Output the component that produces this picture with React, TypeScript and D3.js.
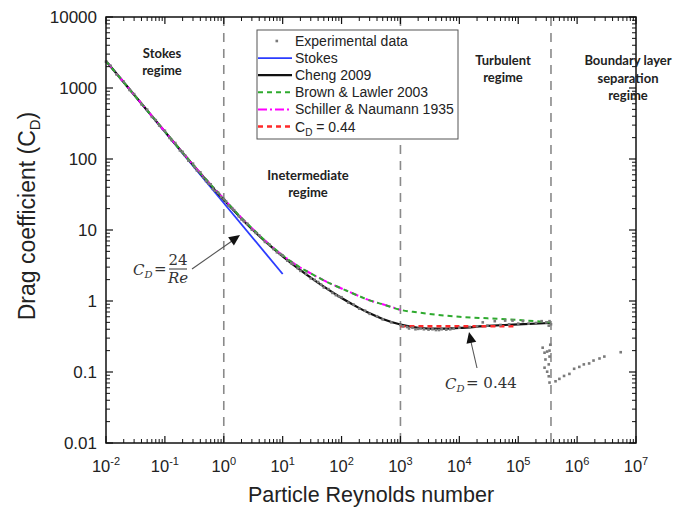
import React from 'react';
import * as d3 from 'd3';

// ---------- data ----------
const xTickExps = [-2, -1, 0, 1, 2, 3, 4, 5, 6, 7];
const yTickValues = [10000, 1000, 100, 10, 1, 0.1, 0.01];
const yTickLabels = ['10000', '1000', '100', '10', '1', '0.1', '0.01'];

const stokesRe = [0.01, 10];
const stokesCd = [2400, 2.4];

const chengRe = [0.01, 0.03, 0.1, 0.3, 1, 2, 3, 5, 10, 20, 30, 50, 100, 200, 300, 500, 1000, 2000, 3000, 5000, 1e4, 3e4, 1e5, 3.5e5];
const chengCd = [2403, 803, 242.8, 82.7, 26.6, 14.47, 10.35, 6.96, 4.26, 2.72, 2.13, 1.59, 1.1, 0.794, 0.67, 0.559, 0.466, 0.42, 0.409, 0.407, 0.417, 0.445, 0.47, 0.49];

const brownRe = [0.01, 0.1, 0.3, 1, 2, 3, 5, 10, 20, 30, 50, 100, 200, 300, 500, 1000, 2000, 3000, 6000, 1e4, 3e4, 1e5, 3.5e5];
const brownCd = [2400, 243.5, 83, 27.5, 14.8, 10.6, 7.1, 4.4, 2.95, 2.45, 1.95, 1.5, 1.17, 1.02, 0.9, 0.75, 0.69, 0.66, 0.62, 0.6, 0.57, 0.54, 0.5];

const schillerRe = [0.01, 0.1, 0.3, 1, 2, 3, 5, 10, 20, 30, 50, 100, 200, 300, 500, 1000];
const schillerCd = [2404, 244, 83, 27.6, 14.8, 10.6, 7.1, 4.4, 2.95, 2.45, 1.95, 1.5, 1.17, 1.02, 0.9, 0.75];

const cd044Re = [1000, 9e4];
const cd044Cd = [0.44, 0.44];

const expRe = [
  0.01, 0.012, 0.015, 0.02, 0.025, 0.03, 0.04, 0.05, 0.06, 0.07, 0.08, 0.1, 0.12, 0.15, 0.18, 0.2, 0.25, 0.3, 0.35, 0.4,
  0.5, 0.6, 0.7, 0.8, 1.0, 1.2, 1.5, 2, 2.5, 3, 4, 5, 6, 8, 10, 12, 15, 20, 25, 30, 40, 50, 60, 80, 100, 130, 160, 200,
  250, 300, 400, 500, 700, 1000, 1300, 1600, 2000, 2500, 3000, 4000, 5000, 6000, 8000, 1e4, 1.5e4, 2e4, 3e4, 5e4, 7e4,
  1e5, 1.5e5, 2e5, 3e5,
  0.13, 0.22, 0.32, 0.45, 0.55, 0.65, 0.9, 1.1, 1.4, 1.8, 2.2, 3.5, 7, 9, 14, 18, 35, 45, 70, 90, 1100, 1400, 1800, 2200,
  3500, 4500, 7000, 2.5e4, 4e4, 6e4, 8e4, 1.2e5, 2.5e5,
  3.4e5, 3.6e5, 3.3e5, 3.5e5, 2.6e5, 2.8e5, 3.1e5, 3.4e5, 2.9e5, 3.3e5, 2.8e5, 3.1e5, 3.3e5, 3.4e5, 3.4e5,
  4.3e5, 5.0e5, 6.0e5, 7.4e5, 8.9e5, 1.09e6, 1.3e6, 1.6e6, 1.9e6, 2.4e6, 2.9e6, 5.5e6,
];
const expCd = [
  2350, 2050, 1560, 1230, 940, 820, 590, 495, 392, 352, 296, 250, 198, 168, 132, 126, 95, 86, 69, 65,
  49, 44, 35.8, 33.5, 27.3, 22.0, 19.0, 14.1, 12.3, 10.1, 8.4, 6.8, 6.2, 4.85, 4.35, 3.7, 3.32, 2.66, 2.42, 2.08, 1.85, 1.55, 1.47, 1.21, 1.13, 0.95, 0.89, 0.78,
  0.73, 0.66, 0.61, 0.55, 0.5, 0.46, 0.43, 0.42, 0.405, 0.4, 0.395, 0.39, 0.4, 0.395, 0.41, 0.42, 0.43, 0.44, 0.45, 0.46, 0.47,
  0.48, 0.48, 0.49, 0.5,
  185, 112, 77, 55, 45, 38, 29, 25, 20, 15.6, 13.3, 9.1, 5.4, 4.6, 3.4, 2.9, 1.98, 1.7, 1.3, 1.16, 0.44, 0.41, 0.4, 0.41,
  0.4, 0.39, 0.4, 0.5, 0.52, 0.53, 0.53, 0.52, 0.52,
  0.52, 0.47, 0.45, 0.242, 0.22, 0.187, 0.194, 0.165, 0.15, 0.128, 0.115, 0.101, 0.087, 0.071, 0.2,
  0.074, 0.08, 0.088, 0.094, 0.111, 0.118, 0.128, 0.132, 0.145, 0.155, 0.165, 0.19,
];

const regimeLines = [1, 1000, 3.6e5];

// ---------- layout ----------
const W = 688;
const H = 509;
const X0 = 106;
const X1 = 636;
const Y0 = 17;
const Y1 = 443;

const axisFont = '"Liberation Sans", Arial, sans-serif';
const labelFont = 'Lato, "Open Sans", sans-serif';
const mathFont = '"DejaVu Serif", "Liberation Serif", serif';

export default function App() {
  const x = d3.scaleLog().domain([1e-2, 1e7]).range([X0, X1]);
  const y = d3.scaleLog().domain([1e-2, 1e4]).range([Y1, Y0]);

  const mk = (re: number[], cd: number[]) => {
    const pts = re.map((r, i) => [r, cd[i]] as [number, number]);
    return d3
      .line<[number, number]>()
      .x((d) => x(d[0]))
      .y((d) => y(d[1]))
      .curve(d3.curveMonotoneX)(pts) as string;
  };

  const xMinor: number[] = [];
  for (let e = -2; e < 7; e++) for (let k = 2; k <= 9; k++) xMinor.push(k * Math.pow(10, e));
  const yMinor: number[] = [];
  for (let e = -2; e < 4; e++) for (let k = 2; k <= 9; k++) yMinor.push(k * Math.pow(10, e));

  const MAJ = 7;
  const MIN = 4;

  const legendRows = [
    { label: 'Experimental data', kind: 'dot' },
    { label: 'Stokes', kind: 'line', color: '#2b3cff', dash: '', w: 1.8 },
    { label: 'Cheng 2009', kind: 'line', color: '#111', dash: '', w: 2.2 },
    { label: 'Brown & Lawler 2003', kind: 'line', color: '#2eaa2e', dash: '5,4', w: 2 },
    { label: 'Schiller & Naumann 1935', kind: 'line', color: '#ff00ff', dash: '9,3,2,3', w: 2 },
    { label: 'CD', kind: 'line', color: '#ff2a2a', dash: '5,4', w: 2.5 },
  ];

  const arrowHead = (x1: number, y1: number, x2: number, y2: number) => {
    const a = Math.atan2(y2 - y1, x2 - x1);
    const L = 11;
    const Wd = 5;
    const bx = x2 - L * Math.cos(a);
    const by = y2 - L * Math.sin(a);
    const px = -Math.sin(a) * Wd;
    const py = Math.cos(a) * Wd;
    return `M${x2},${y2}L${bx + px},${by + py}L${bx - px},${by - py}Z`;
  };

  return (
    <svg width={W} height={H} style={{ position: 'absolute', left: 0, top: 0, background: '#fff' }}>
      <rect x={0} y={0} width={W} height={H} fill="#fff" />

      {/* regime dashed lines */}
      {regimeLines.map((r) => (
        <line key={r} x1={x(r)} x2={x(r)} y1={Y0} y2={Y1} stroke="#8a8a8a" strokeWidth={1.6} strokeDasharray="9,7" />
      ))}

      {/* curves */}
      <path d={mk(stokesRe, stokesCd)} fill="none" stroke="#2b3cff" strokeWidth={1.8} />
      <path d={mk(chengRe, chengCd)} fill="none" stroke="#111" strokeWidth={2.2} />
      <path d={mk(schillerRe, schillerCd)} fill="none" stroke="#ff00ff" strokeWidth={2} strokeDasharray="9,3,2,3" />
      <path d={mk(brownRe, brownCd)} fill="none" stroke="#2eaa2e" strokeWidth={2} strokeDasharray="5,4" />
      <path d={mk(cd044Re, cd044Cd)} fill="none" stroke="#ff2a2a" strokeWidth={2.6} strokeDasharray="5,4" />

      {/* experimental data */}
      {expRe.map((r, i) => (
        <rect key={i} x={x(r) - 1.3} y={y(expCd[i]) - 1.3} width={2.6} height={2.6} fill="#7a7a7a" />
      ))}

      {/* frame */}
      <rect x={X0} y={Y0} width={X1 - X0} height={Y1 - Y0} fill="none" stroke="#111" strokeWidth={1.5} />

      {/* x ticks */}
      {xTickExps.map((e) => {
        const px = x(Math.pow(10, e));
        return (
          <g key={'xm' + e}>
            <line x1={px} x2={px} y1={Y1} y2={Y1 - MAJ} stroke="#111" strokeWidth={1.2} />
            <line x1={px} x2={px} y1={Y0} y2={Y0 + MAJ} stroke="#111" strokeWidth={1.2} />
            <text x={px} y={472} textAnchor="middle" fontFamily={axisFont} fontSize={16.5} fill="#222">
              10
              <tspan dy={-7} fontSize={11}>{String(e)}</tspan>
            </text>
          </g>
        );
      })}
      {xMinor.map((v) => (
        <g key={'xn' + v}>
          <line x1={x(v)} x2={x(v)} y1={Y1} y2={Y1 - MIN} stroke="#111" strokeWidth={1} />
          <line x1={x(v)} x2={x(v)} y1={Y0} y2={Y0 + MIN} stroke="#111" strokeWidth={1} />
        </g>
      ))}

      {/* y ticks */}
      {yTickValues.map((v, i) => (
        <g key={'ym' + v}>
          <line x1={X0} x2={X0 + MAJ} y1={y(v)} y2={y(v)} stroke="#111" strokeWidth={1.2} />
          <line x1={X1} x2={X1 - MAJ} y1={y(v)} y2={y(v)} stroke="#111" strokeWidth={1.2} />
          <text x={97} y={y(v)} dy="0.36em" textAnchor="end" fontFamily={axisFont} fontSize={17} fill="#222">
            {yTickLabels[i]}
          </text>
        </g>
      ))}
      {yMinor.map((v) => (
        <g key={'yn' + v}>
          <line x1={X0} x2={X0 + MIN} y1={y(v)} y2={y(v)} stroke="#111" strokeWidth={1} />
          <line x1={X1} x2={X1 - MIN} y1={y(v)} y2={y(v)} stroke="#111" strokeWidth={1} />
        </g>
      ))}

      {/* axis titles */}
      <text x={371} y={502} textAnchor="middle" fontFamily={axisFont} fontSize={21.5} fill="#222">
        Particle Reynolds number
      </text>
      <text transform="translate(35,216) rotate(-90)" textAnchor="middle" fontFamily={axisFont} fontSize={23} fill="#222">
        Drag coefficient (C<tspan dy={5} fontSize={15}>D</tspan><tspan dy={-5}>)</tspan>
      </text>

      {/* regime labels */}
      <g fontFamily={labelFont} fontWeight={700} fontSize={13} fill="#222" textAnchor="middle">
        <text x={162} y={58}>Stokes</text>
        <text x={162} y={75}>regime</text>
        <text x={308} y={180}>Inetermediate</text>
        <text x={308} y={197}>regime</text>
        <text x={503} y={65}>Turbulent</text>
        <text x={503} y={82}>regime</text>
        <text x={628} y={65}>Boundary layer</text>
        <text x={628} y={83}>separation</text>
        <text x={628} y={100}>regime</text>
      </g>

      {/* legend */}
      <rect x={257} y={30} width={201} height={109} fill="#fff" stroke="#555" strokeWidth={1} />
      {legendRows.map((row, i) => {
        const cy = 41 + i * 17.1;
        return (
          <g key={row.label}>
            {row.kind === 'dot' ? (
              <rect x={275.5} y={cy - 1.3} width={2.6} height={2.6} fill="#7a7a7a" />
            ) : (
              <line x1={258} x2={292} y1={cy} y2={cy} stroke={row.color} strokeWidth={row.w} strokeDasharray={row.dash} />
            )}
            <text x={295} y={cy} dy="0.36em" fontFamily={axisFont} fontSize={14} fill="#222">
              {row.label === 'CD' ? (
                <>
                  C<tspan dy={4} fontSize={10}>D</tspan>
                  <tspan dy={-4}> = 0.44</tspan>
                </>
              ) : (
                row.label
              )}
            </text>
          </g>
        );
      })}

      {/* annotation: CD = 24/Re */}
      <g fontFamily={mathFont} fontStyle="italic" fontSize={15} fill="#333">
        <text x={133} y={275}>
          C<tspan dy={3} fontSize={10}>D</tspan>
        </text>
        <text x={154} y={274} fontStyle="normal">=</text>
        <text x={178} y={265} textAnchor="middle" fontStyle="normal">24</text>
        <text x={178} y={283} textAnchor="middle">Re</text>
      </g>
      <line x1={169} x2={187} y1={269} y2={269} stroke="#333" strokeWidth={1} />
      <line x1={192} y1={269} x2={232} y2={241} stroke="#555" strokeWidth={1.1} />
      <path d={arrowHead(192, 269, 240, 235)} fill="#111" />

      {/* annotation: CD = 0.44 */}
      <g fontFamily={mathFont} fontStyle="italic" fontSize={15} fill="#333">
        <text x={445} y={389}>
          C<tspan dy={3} fontSize={10}>D</tspan>
        </text>
        <text x={466} y={388} fontStyle="normal">= 0.44</text>
      </g>
      <line x1={477} y1={368} x2={471} y2={342} stroke="#555" strokeWidth={1.1} />
      <path d={arrowHead(477, 368, 469, 332)} fill="#111" />
    </svg>
  );
}
